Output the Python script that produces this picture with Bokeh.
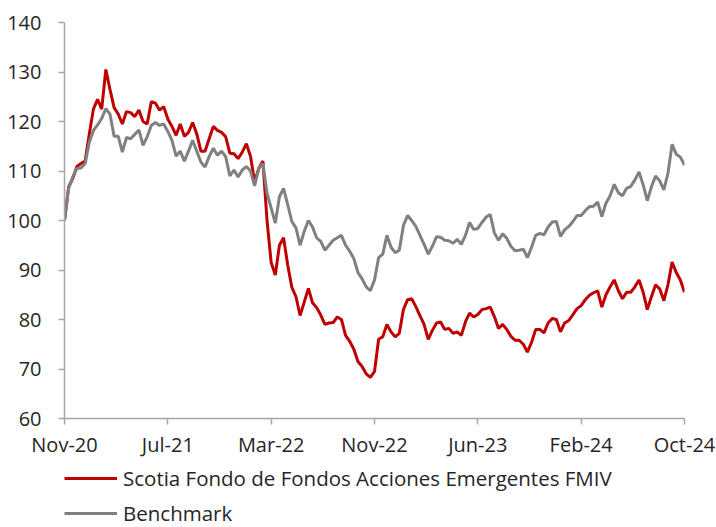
from bokeh.plotting import figure
from bokeh.models import Range1d, FixedTicker, Legend, LegendItem
from bokeh.layouts import column
from bokeh.embed import file_html
from bokeh.resources import INLINE

# ---- data (index = observation number, ticks every 25 observations) ----
tick_labels = ["Nov-20", "Jul-21", "Mar-22", "Nov-22", "Jun-23", "Feb-24", "Oct-24"]
tick_step = 25

fund_name = "Scotia Fondo de Fondos Acciones Emergentes FMIV"
bench_name = "Benchmark"

fund = [
    100.0, 106.8, 108.5, 110.9, 111.5, 112.0, 117.5, 122.5, 124.5, 122.5,
    130.5, 126.5, 122.8, 121.5, 119.5, 122.0, 121.8, 121.0, 122.3, 120.0,
    119.5, 124.0, 123.7, 122.3, 123.0, 120.5, 119.0, 117.2, 119.5, 117.0,
    117.8, 119.8, 117.5, 114.0, 114.0, 116.5, 119.0, 118.2, 117.8, 116.9,
    113.6, 113.5, 112.5, 113.8, 115.5, 113.0, 107.8, 110.5, 112.0, 100.0,
    91.5, 89.0, 95.0, 96.5, 91.0, 86.5, 84.6, 80.8, 83.5, 86.3,
    83.4, 82.4, 80.9, 79.0, 79.3, 79.4, 80.5, 80.0, 76.8, 75.6,
    74.0, 71.5, 70.5, 69.0, 68.3, 69.5, 76.0, 76.5, 79.0, 77.5,
    76.5, 77.2, 82.0, 84.0, 84.2, 82.6, 80.8, 79.0, 76.0, 77.8,
    79.3, 79.5, 78.0, 78.2, 77.2, 77.5, 76.8, 79.5, 81.3, 80.5,
    81.0, 82.0, 82.2, 82.5, 80.6, 78.2, 79.0, 78.0, 76.6, 75.8,
    75.8, 75.0, 73.4, 75.4, 78.0, 78.0, 77.3, 79.3, 80.2, 80.0,
    77.5, 79.3, 79.8, 81.0, 82.2, 82.8, 84.0, 84.9, 85.4, 85.8,
    82.5, 85.0, 86.6, 88.0, 85.8, 84.2, 85.5, 85.5, 86.6, 88.0,
    85.5, 82.0, 84.6, 87.0, 86.2, 83.8, 87.0, 91.6, 89.5, 88.0,
    85.5,
]

bench = [
    100.0, 106.5, 108.8, 110.5, 110.6, 111.5, 115.8, 118.2, 119.3, 120.6,
    122.6, 121.5, 117.0, 117.0, 113.8, 116.8, 116.5, 117.4, 118.3, 115.2,
    116.9, 119.2, 119.8, 119.2, 119.5, 118.0, 116.2, 113.0, 114.0, 112.0,
    114.0, 116.2, 114.0, 111.8, 110.8, 112.9, 114.6, 113.2, 114.0, 112.9,
    109.0, 110.2, 108.8, 110.2, 110.9, 110.0, 107.0, 110.5, 111.5, 105.5,
    102.5, 99.5, 104.8, 106.5, 103.2, 99.8, 98.5, 95.0, 97.8, 100.0,
    98.7, 96.5, 95.8, 94.0, 95.0, 96.0, 96.5, 97.0, 95.0, 93.8,
    92.3, 89.5, 88.2, 86.6, 85.8, 88.0, 92.5, 93.2, 97.0, 94.6,
    93.5, 94.0, 99.0, 101.0, 100.0, 98.8, 97.0, 95.2, 93.2, 94.8,
    96.7, 96.6, 96.0, 95.9, 95.4, 96.2, 95.2, 97.0, 99.6, 98.2,
    98.4, 99.6, 100.7, 101.2, 97.5, 96.0, 97.3, 96.4, 94.8, 93.9,
    94.0, 94.2, 92.5, 94.6, 97.0, 97.4, 97.1, 98.7, 99.7, 99.8,
    96.8, 98.1, 98.8, 99.8, 101.0, 101.0, 102.0, 102.8, 102.9, 103.7,
    100.8, 103.5, 105.0, 107.3, 105.6, 105.0, 106.5, 106.9, 108.2, 109.8,
    107.2, 104.0, 106.8, 109.0, 108.0, 106.2, 109.5, 115.4, 113.4, 112.8,
    111.2,
]

y_ticks = [60, 70, 80, 90, 100, 110, 120, 130, 140]

# ---- styling ----
FONT = "Open Sans"
TXT = "#262626"
AXIS = "#A6A6A6"
RED = "#C00000"
GRAY = "#808080"
LW = 3

x = list(range(len(fund)))
x_ticks = [i * tick_step for i in range(len(tick_labels))]

p = figure(
    width=716, height=460,
    min_border_left=64, min_border_right=32, min_border_top=22, min_border_bottom=41,
    x_range=Range1d(0, len(fund) - 1), y_range=Range1d(60, 140),
    output_backend="svg", toolbar_location=None,
)
p.outline_line_color = None
p.grid.visible = False
p.background_fill_color = "white"
p.border_fill_color = "white"

p.line(x, fund, line_color=RED, line_width=LW)
p.line(x, bench, line_color=GRAY, line_width=LW)

for ax in (p.xaxis[0], p.yaxis[0]):
    ax.axis_line_color = AXIS
    ax.axis_line_width = 1.5
    ax.major_tick_line_color = AXIS
    ax.major_tick_line_width = 1.5
    ax.major_tick_in = 0
    ax.major_tick_out = 6
    ax.minor_tick_line_color = None
    ax.major_label_text_font = FONT
    ax.major_label_text_color = TXT
    ax.major_label_text_font_size = "20px"

p.yaxis[0].ticker = FixedTicker(ticks=y_ticks)
p.yaxis[0].major_label_standoff = 17
p.xaxis[0].ticker = FixedTicker(ticks=x_ticks)
p.xaxis[0].major_label_overrides = {t: lab for t, lab in zip(x_ticks, tick_labels)}
p.xaxis[0].major_label_standoff = 6

# ---- legend strip below the chart (screen-pixel ranges) ----
LEG_W, LEG_H = 716, 67
leg = figure(
    width=LEG_W, height=LEG_H, min_border=0,
    x_range=Range1d(0, LEG_W), y_range=Range1d(0, LEG_H),
    x_axis_type=None, y_axis_type=None,
    output_backend="svg", toolbar_location=None,
)
leg.outline_line_color = None
leg.grid.visible = False
leg.border_fill_color = "white"
leg.background_fill_color = "white"
nan = float("nan")
lr_fund = leg.line([nan, nan], [nan, nan], line_color=RED, line_width=LW)
lr_bench = leg.line([nan, nan], [nan, nan], line_color=GRAY, line_width=LW)

legend = Legend(
    items=[LegendItem(label=fund_name, renderers=[lr_fund]),
           LegendItem(label=bench_name, renderers=[lr_bench])],
    orientation="vertical", location=(0, 0),
    border_line_color=None, background_fill_alpha=0,
    glyph_width=53, glyph_height=20, label_height=20, spacing=7,
    label_standoff=6, padding=0, margin=0,
    label_text_font=FONT, label_text_font_size="20.5px", label_text_color=TXT,
    label_text_line_height=1.0,
)
leg.add_layout(legend, "center")

layout = column(p, leg, spacing=0)
open("out.html", "w").write(file_html(layout, INLINE))
